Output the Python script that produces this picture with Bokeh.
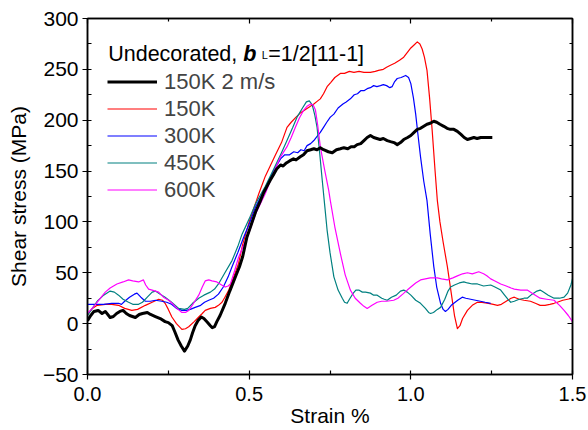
from bokeh.plotting import figure
from bokeh.models import (Range1d, LinearAxis, FixedTicker, CustomJSTickFormatter,
                          Legend, LegendItem, Label)
from bokeh.embed import file_html
from bokeh.resources import INLINE

FONT = "Liberation Sans"

# ---------------- data (strain %, shear stress MPa) ----------------
black_x = [0.0, 0.01, 0.02, 0.033, 0.045, 0.055, 0.07, 0.08, 0.09, 0.1, 0.11, 0.12, 0.13, 0.148, 0.16, 0.17,
           0.185, 0.195, 0.21, 0.225, 0.24, 0.25, 0.262, 0.27, 0.28, 0.29, 0.30, 0.31, 0.318, 0.325, 0.333,
           0.342, 0.352, 0.36, 0.37, 0.38, 0.386, 0.393, 0.40, 0.41, 0.426, 0.44, 0.45, 0.46, 0.47, 0.48,
           0.493, 0.505, 0.52, 0.535, 0.545, 0.555, 0.565, 0.576, 0.585, 0.597, 0.605, 0.615, 0.625, 0.637,
           0.645, 0.658, 0.668, 0.679, 0.69, 0.70, 0.71, 0.72, 0.73, 0.745, 0.757, 0.77, 0.782, 0.793, 0.805,
           0.815, 0.825, 0.834, 0.845, 0.855, 0.865, 0.875, 0.885, 0.895, 0.905, 0.915, 0.927, 0.937, 0.948,
           0.958, 0.968, 0.978, 0.99, 1.0, 1.01, 1.02, 1.03, 1.04, 1.05, 1.06, 1.071, 1.08, 1.09, 1.102,
           1.112, 1.122, 1.133, 1.144, 1.155, 1.165, 1.175, 1.185, 1.195, 1.205, 1.216, 1.23, 1.24, 1.252]
black_y = [3, 8, 12, 13, 10, 12, 6, 7, 10, 12, 13, 10, 8, 6, 9, 10,
           11, 9, 7, 5, 2, 1, -2, -8, -16, -22, -27, -22, -16, -9, -2,
           3, 6.5, 5, 1.6, -2, -4, -3, 2, 8, 20, 32, 40, 48, 56, 66,
           85, 96, 110, 121, 129, 135, 141, 147, 152, 156, 155, 158, 160, 162,
           161, 164, 166, 170, 171, 172, 171, 173, 171, 169, 168, 171, 172, 173, 172,
           174, 174, 176, 177, 180, 183, 185, 183, 182, 181, 182, 180, 179, 178,
           176, 178, 181, 183, 185, 188, 191, 192, 194, 196, 197, 199, 198, 196, 194,
           192, 191, 191, 189, 186, 183, 181, 182, 183, 182, 183, 183, 183, 183]

red_x = [0.0, 0.015, 0.03, 0.055, 0.075, 0.096, 0.115, 0.137, 0.155, 0.179, 0.2, 0.22, 0.232, 0.24, 0.25,
         0.261, 0.275, 0.292, 0.303, 0.313, 0.33, 0.344, 0.355, 0.364, 0.38, 0.395, 0.405, 0.416, 0.425,
         0.437, 0.45, 0.467, 0.48, 0.5, 0.515, 0.53, 0.55, 0.565, 0.58, 0.6, 0.617, 0.63, 0.645, 0.658,
         0.672, 0.686, 0.7, 0.712, 0.72, 0.73, 0.741, 0.752, 0.765, 0.782, 0.795, 0.81, 0.824, 0.84, 0.855,
         0.875, 0.89, 0.9, 0.915, 0.925, 0.937, 0.95, 0.965, 0.978, 0.99, 1.0, 1.01, 1.02, 1.028, 1.035,
         1.042, 1.05, 1.058, 1.066, 1.075, 1.082, 1.09, 1.1, 1.113, 1.125, 1.135, 1.144, 1.152, 1.16, 1.175,
         1.19, 1.206, 1.22, 1.24, 1.255, 1.268, 1.28, 1.295, 1.31, 1.32, 1.335, 1.35, 1.37, 1.385, 1.40,
         1.415, 1.43, 1.443, 1.453, 1.47, 1.485, 1.5]
red_y = [9, 15, 18, 19, 19, 18, 15, 13, 14, 18, 21, 24, 23, 20, 14,
         6.5, 0, -5.6, -5, -3, 2, 6.5, 10, 13, 15, 16, 18, 21, 26,
         33, 44, 59, 78, 100, 114, 128, 145, 155, 165, 178, 193, 198, 203, 207,
         210, 213, 216, 219, 221, 226, 233, 237, 242, 246, 246, 248, 247, 248, 247,
         247, 248, 249, 250, 252, 254, 256, 259, 262, 267, 271, 274, 277, 275, 270,
         262, 249, 222, 190, 150, 121, 100, 80, 56, 30, 8, -5, -2, 5, 13,
         18, 21, 21, 20, 19, 18, 19, 22, 25, 26, 24, 23, 22, 20, 18,
         18, 19, 20, 21, 23, 24, 25]

blue_x = [0.0, 0.02, 0.05, 0.075, 0.096, 0.105, 0.115, 0.13, 0.145, 0.153, 0.165, 0.179, 0.195, 0.21, 0.23,
          0.245, 0.26, 0.275, 0.292, 0.305, 0.318, 0.333, 0.35, 0.362, 0.375, 0.39, 0.405, 0.42, 0.435,
          0.447, 0.465, 0.483, 0.5, 0.52, 0.55, 0.575, 0.597, 0.61, 0.625, 0.638, 0.65, 0.66, 0.67, 0.679,
          0.69, 0.7, 0.71, 0.72, 0.73, 0.74, 0.751, 0.762, 0.775, 0.79, 0.8, 0.813, 0.825, 0.835, 0.845,
          0.855, 0.865, 0.875, 0.885, 0.895, 0.906, 0.915, 0.925, 0.935, 0.942, 0.95, 0.958, 0.97, 0.984,
          0.993, 1.0, 1.008, 1.015, 1.022, 1.03, 1.04, 1.05, 1.06, 1.071, 1.08, 1.092, 1.1, 1.107, 1.115,
          1.125, 1.133, 1.145, 1.159, 1.17, 1.185, 1.2, 1.215, 1.23, 1.247]
blue_y = [19, 19, 19, 20, 20, 19, 22, 26, 29, 30, 26, 22, 22, 23, 22,
          21, 19, 15, 13, 13, 14, 16, 18, 21, 23, 25, 29, 36, 46,
          56, 70, 85, 98, 115, 133, 150, 162, 166, 166, 169, 168, 171, 170, 175,
          177, 180, 184, 188, 193, 198, 203, 206, 212, 216, 218, 221, 225, 226, 229,
          229, 231, 232, 234, 233, 234, 235, 234, 232, 233, 238, 241, 242, 244,
          242, 236, 222, 206, 186, 164, 140, 121, 88, 56, 36, 20, 14, 12, 14,
          18, 20, 23, 26, 25, 24, 23, 22, 21, 20]

teal_x = [0.0, 0.015, 0.03, 0.05, 0.07, 0.083, 0.096, 0.11, 0.127, 0.14, 0.158, 0.17, 0.185, 0.2, 0.21,
          0.225, 0.24, 0.26, 0.282, 0.3, 0.31, 0.325, 0.344, 0.36, 0.38, 0.393, 0.405, 0.425, 0.447, 0.465,
          0.478, 0.5, 0.52, 0.55, 0.576, 0.6, 0.617, 0.635, 0.648, 0.665, 0.677, 0.686, 0.695, 0.703, 0.71,
          0.718, 0.726, 0.734, 0.741, 0.75, 0.762, 0.775, 0.788, 0.795, 0.803, 0.812, 0.822, 0.83, 0.839,
          0.85, 0.86, 0.875, 0.885, 0.896, 0.91, 0.918, 0.927, 0.94, 0.955, 0.968, 0.978, 0.989, 1.0, 1.015,
          1.03, 1.045, 1.055, 1.061, 1.07, 1.082, 1.092, 1.105, 1.115, 1.123, 1.135, 1.15, 1.164, 1.175,
          1.19, 1.206, 1.225, 1.247, 1.26, 1.278, 1.29, 1.3, 1.309, 1.32, 1.335, 1.35, 1.36, 1.375, 1.39,
          1.40, 1.41, 1.425, 1.443, 1.46, 1.474, 1.485, 1.495, 1.5]
teal_y = [8, 15, 22, 28, 32, 31, 28, 24, 21, 19, 19, 21, 26, 31, 32,
          29, 26, 21, 15, 14, 15, 20, 25, 28, 31, 34, 39, 50, 62, 76,
          88, 103, 118, 135, 152, 168, 180, 193, 203, 212, 218, 219, 215, 205, 193,
          168, 141, 115, 92, 70, 46, 33, 25, 21, 20, 25, 30, 33, 33,
          31, 31, 30, 28, 28, 25, 24, 23, 26, 28, 32, 33, 31, 28, 23,
          20, 15, 11, 10, 11, 14, 16, 24, 32, 36, 38, 40, 41, 40,
          39, 39, 37, 38, 36, 33, 28, 24, 21, 22, 24, 25, 25, 29, 32,
          33, 31, 28, 25, 25, 26, 30, 38, 44]

mag_x = [0.0, 0.02, 0.04, 0.055, 0.07, 0.091, 0.11, 0.127, 0.14, 0.158, 0.173, 0.18, 0.189, 0.2, 0.22,
         0.235, 0.251, 0.265, 0.28, 0.292, 0.303, 0.313, 0.328, 0.344, 0.355, 0.364, 0.375, 0.385, 0.4,
         0.415, 0.426, 0.435, 0.442, 0.455, 0.467, 0.48, 0.498, 0.52, 0.55, 0.575, 0.597, 0.617, 0.63,
         0.643, 0.655, 0.669, 0.68, 0.69, 0.698, 0.705, 0.712, 0.72, 0.733, 0.746, 0.751, 0.765, 0.782,
         0.797, 0.813, 0.828, 0.844, 0.855, 0.865, 0.88, 0.896, 0.91, 0.925, 0.947, 0.96, 0.975, 0.989,
         1.0, 1.015, 1.03, 1.045, 1.06, 1.07, 1.082, 1.095, 1.113, 1.13, 1.144, 1.16, 1.175, 1.19, 1.21,
         1.225, 1.235, 1.247, 1.26, 1.278, 1.295, 1.31, 1.32, 1.34, 1.36, 1.38, 1.40, 1.42, 1.443, 1.46,
         1.474, 1.487, 1.5]
mag_y = [10, 17, 25, 31, 35, 39, 41, 43, 42, 41, 43, 38, 34, 33, 31,
         26, 23, 19, 14, 11, 11, 13, 20, 28, 36, 42, 43, 42, 41,
         38, 36, 37, 39, 52, 65, 75, 88, 108, 128, 148, 164, 174, 183,
         193, 202, 210, 214, 216, 215, 210, 195, 174, 152, 131, 121, 95, 69,
         48, 33, 25, 20, 17, 15, 18, 21, 22, 22, 23, 25, 29, 33,
         36, 40, 43, 44, 45, 45, 45, 44, 43, 45, 47, 49, 50, 49, 51,
         49, 47, 44, 42, 39, 37, 35, 34, 33, 33, 29, 25, 24, 23, 18,
         13, 8, 2]

series = [
    ("150K 2 m/s", black_x, black_y, "#000000", 3.0),
    ("150K", red_x, red_y, "#ff0000", 1.2),
    ("300K", blue_x, blue_y, "#0000ff", 1.2),
    ("450K", teal_x, teal_y, "#008080", 1.2),
    ("600K", mag_x, mag_y, "#ff00ff", 1.2),
]

x_major = [0.0, 0.5, 1.0, 1.5]
x_minor = [0.25, 0.75, 1.25]
y_major = [-50, 0, 50, 100, 150, 200, 250, 300]
y_minor = [-25, 25, 75, 125, 175, 225, 275]

# ---------------- figure ----------------
p = figure(width=588, height=430, output_backend="svg", toolbar_location=None,
           x_range=Range1d(0, 1.5), y_range=Range1d(-50, 300),
           min_border_left=87, min_border_right=16, min_border_top=18, min_border_bottom=56,
           x_axis_label="Strain %", y_axis_label="Shear stress (MPa)")
p.grid.visible = False
p.outline_line_color = "black"
p.outline_line_width = 1.5
p.background_fill_color = "white"
p.border_fill_color = "white"

xt = FixedTicker(ticks=x_major, minor_ticks=x_minor)
yt = FixedTicker(ticks=y_major, minor_ticks=y_minor)

xa = p.xaxis[0]
xa.ticker = xt
xa.formatter = CustomJSTickFormatter(code="return tick.toFixed(1);")
ya = p.yaxis[0]
ya.ticker = yt

for ax in (xa, ya):
    ax.axis_line_width = 1.5
    ax.axis_line_color = "black"
    ax.major_tick_line_width = 1.2
    ax.minor_tick_line_width = 1.2
    ax.major_tick_in = 4
    ax.major_tick_out = 5
    ax.minor_tick_in = 4
    ax.minor_tick_out = 0
    ax.major_label_text_font = FONT
    ax.major_label_text_color = "black"
    ax.axis_label_text_font = FONT
    ax.axis_label_text_font_size = "21px"
    ax.axis_label_text_font_style = "normal"
    ax.axis_label_text_color = "black"

xa.major_label_text_font_size = "20px"
ya.major_label_text_font_size = "21px"
xa.major_label_standoff = 7
xa.axis_label_standoff = 0
ya.major_label_standoff = 4
ya.axis_label_standoff = 10

blank = CustomJSTickFormatter(code="return '';")
top = LinearAxis(ticker=xt, formatter=blank)
right = LinearAxis(ticker=yt, formatter=blank)
for ax in (top, right):
    ax.axis_line_width = 1.5
    ax.major_tick_in = 5
    ax.major_tick_out = 0
    ax.minor_tick_in = 3
    ax.minor_tick_out = 0
    ax.major_tick_line_width = 1.2
    ax.minor_tick_line_width = 1.2
    ax.major_label_standoff = 0
    ax.major_label_text_font_size = "1px"
p.add_layout(top, "above")
p.add_layout(right, "right")

items = []
for name, xs, ys, col, lw in series:
    r = p.line(xs, ys, line_color=col, line_width=lw, line_join="round")
    items.append(LegendItem(label=name, renderers=[r]))

# draw black on top
p.renderers.append(p.renderers.pop(0))

legend = Legend(items=items, location=(20, 171), padding=0, spacing=0,
                glyph_width=50, glyph_height=27, label_height=27, label_standoff=7,
                label_text_font=FONT, label_text_font_size="22px",
                background_fill_alpha=0, border_line_alpha=0)
p.add_layout(legend)

# header: Undecorated, b_L=1/2[11-1]
lbl_kw = dict(text_font=FONT, text_color="black", text_baseline="alphabetic")
p.add_layout(Label(x=0.064, y=265.5, text="Undecorated,", text_font_size="21.5px", **lbl_kw))
p.add_layout(Label(x=0.482, y=265.5, text="b", text_font_size="21.5px",
                   text_font_style="bold italic", **lbl_kw))
p.add_layout(Label(x=0.539, y=264.5, text="L", text_font_size="11px", **lbl_kw))
p.add_layout(Label(x=0.559, y=265.5, text="=1/2[11-1]", text_font_size="21.5px", **lbl_kw))

open("out.html", "w").write(file_html(p, INLINE))
